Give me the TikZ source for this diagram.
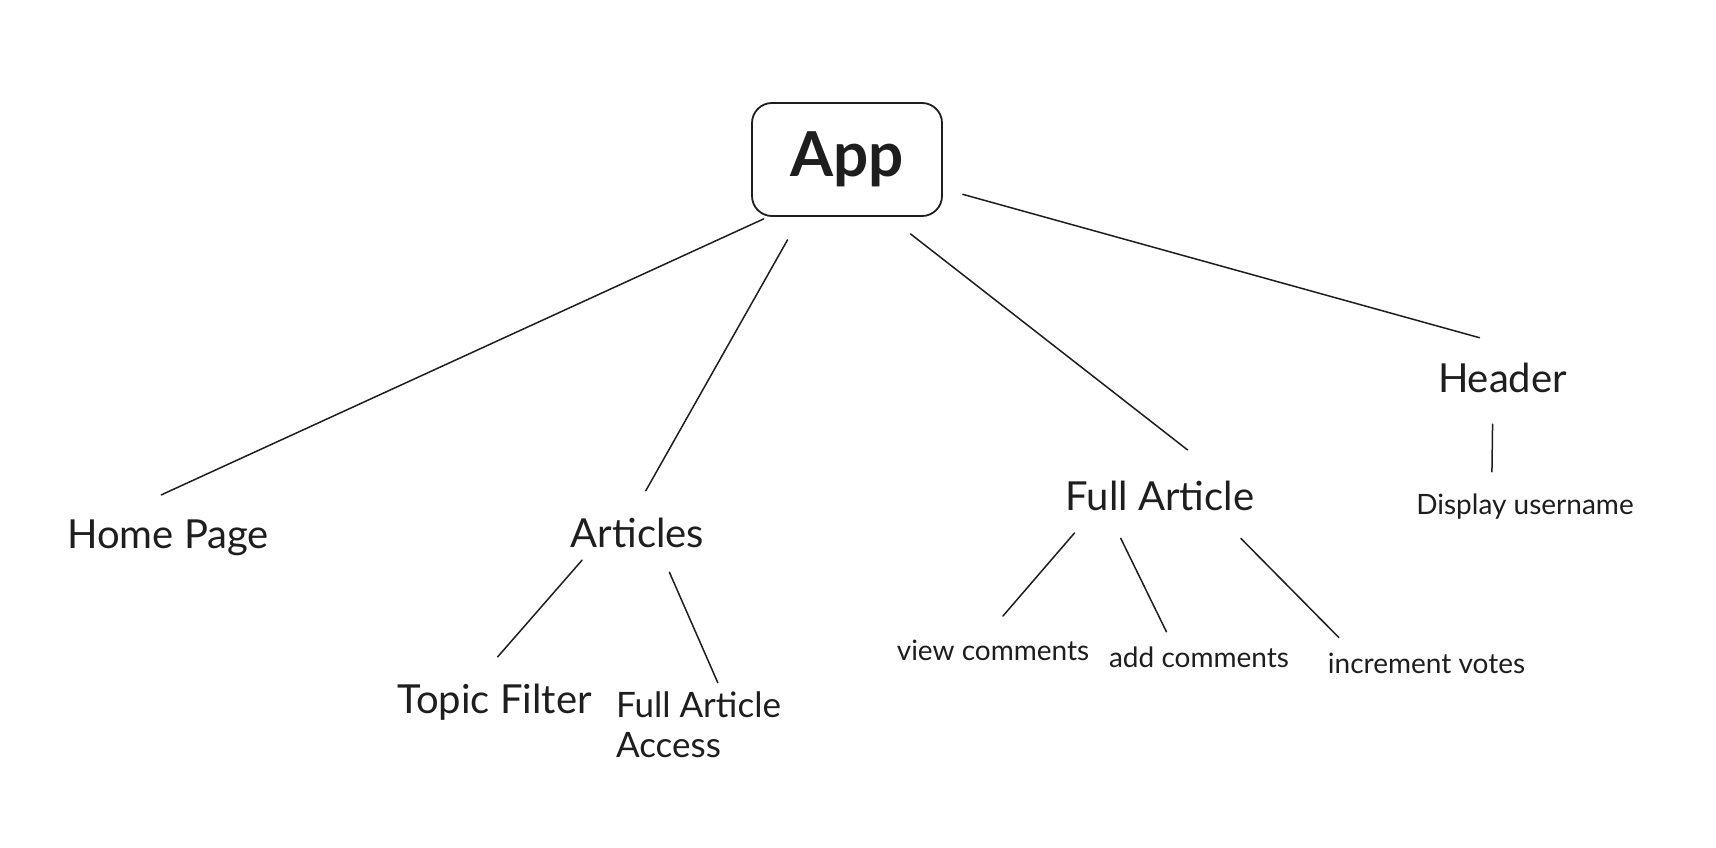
\documentclass[tikz,border=0pt]{standalone}
\usepackage{fontspec}
\setmainfont{Lato}
\usetikzlibrary{positioning}
\definecolor{ink}{HTML}{1E1E1E}

\begin{document}
\begin{tikzpicture}[
        x = 1pt,
        y = -1pt,
        on grid,
        every node/.style = {text = ink},
        link/.style = {draw = ink, line width = 1.5pt, line cap = round},
        root/.style = {
            draw = ink, line width = 1.8pt, rounded corners = 20pt,
            minimum width = 190pt, minimum height = 113pt,
            font = \fontsize{62}{70}\selectfont\bfseries
        },
        part/.style = {
            inner sep = 0pt, text height = 30pt, text depth = 0pt,
            font = \fontsize{40}{46}\selectfont
        },
        leaf/.style = {
            inner sep = 0pt, text height = 20pt, text depth = 0pt,
            font = \fontsize{28}{32}\selectfont
        }
    ]
    \useasboundingbox (0,0) rectangle (1716,848);
    \fill[white] (0,0) rectangle (1716,848);

    % top of the tree
    \node[root] (app) at (847,159.5) {App};

    % first level
    \node[part, below left=373.5pt and 679pt of app] (home) {Home Page};
    \node[part, below left=372.5pt and 209.5pt of app] (articles) {Articles};
    \node[part, below right=335.5pt and 313pt of app] (fullart) {Full Article};
    \node[part, below right=217.5pt and 655.5pt of app] (header) {Header};

    % second level
    \node[part, below left=166pt and 143pt of articles] (topic) {Topic Filter};
    \node[inner sep=0pt, align=left, font=\fontsize{35}{40}\selectfont,
        below right=193pt and 61pt of articles] (access) {Full Article\\Access};
    \node[leaf, below left=155pt and 167pt of fullart] (view) {view comments};
    \node[leaf, below right=162pt and 39pt of fullart] (add) {add comments};
    \node[leaf, below right=168pt and 266.5pt of fullart] (votes) {increment votes};
    \node[leaf, below right=127pt and 22.5pt of header] (display) {Display username};

    % connectors
    \draw[link, shorten <=4.8pt, shorten >=55pt] (app.216) -- (home.165);
    \draw[link, shorten <=26.4pt, shorten >=29.9pt] (app.231) -- (articles.113);
    \draw[link, shorten <=27.6pt, shorten >=48.6pt] (app.306) -- (fullart.13);
    \draw[link, shorten <=20.7pt, shorten >=91pt] (app.343) -- (header.13);
    \draw[link, shorten <=32pt, shorten >=22pt] (header.238) -- (display.163);
    \draw[link, shorten <=17.2pt, shorten >=34.4pt] (articles.199) -- (topic.142);
    \draw[link, shorten <=27.3pt, shorten >=9.8pt] (articles.324) -- (access.55);
    \draw[link, shorten <=30.1pt, shorten >=31.4pt] (fullart.193) -- (view.136);
    \draw[link, shorten <=31.3pt, shorten >=16.8pt] (fullart.196) -- (add.158);
    \draw[link, shorten <=39.8pt, shorten >=21.3pt] (fullart.344) -- (votes.172);
\end{tikzpicture}
\end{document}
